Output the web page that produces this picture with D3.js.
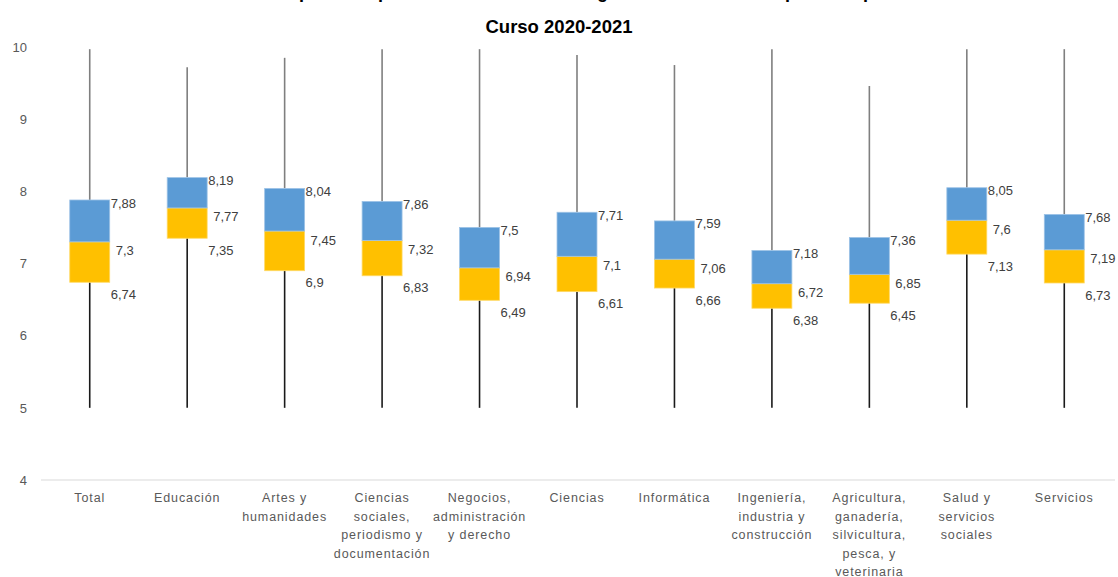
<!DOCTYPE html>
<html>
<head>
<meta charset="utf-8">
<script src="https://cdn.jsdelivr.net/npm/d3@7"></script>
<style>
  body { margin: 0; background: #fff; }
  svg { display: block; }
</style>
</head>
<body>
<div id="chart"></div>
<script>
const categories = [
  ["Total"],
  ["Educación"],
  ["Artes y", "humanidades"],
  ["Ciencias", "sociales,", "periodismo y", "documentación"],
  ["Negocios,", "administración", "y derecho"],
  ["Ciencias"],
  ["Informática"],
  ["Ingeniería,", "industria y", "construcción"],
  ["Agricultura,", "ganadería,", "silvicultura,", "pesca, y", "veterinaria"],
  ["Salud y", "servicios", "sociales"],
  ["Servicios"]
];
const minValues = [5, 5, 5, 5, 5, 5, 5, 5, 5, 5, 5];
const q1Values = [6.74, 7.35, 6.9, 6.83, 6.49, 6.61, 6.66, 6.38, 6.45, 7.13, 6.73];
const medianValues = [7.3, 7.77, 7.45, 7.32, 6.94, 7.1, 7.06, 6.72, 6.85, 7.6, 7.19];
const q3Values = [7.88, 8.19, 8.04, 7.86, 7.5, 7.71, 7.59, 7.18, 7.36, 8.05, 7.68];
const maxValues = [9.97, 9.72, 9.85, 9.97, 9.97, 9.89, 9.75, 9.97, 9.46, 9.97, 9.97];
const yTicks = [4, 5, 6, 7, 8, 9, 10];

const width = 1118, height = 577;
const margin = {top: 47, right: 5, bottom: 97, left: 41};

const svg = d3.select("#chart").append("svg")
  .attr("width", width)
  .attr("height", height);

const x = d3.scaleBand()
  .domain(d3.range(categories.length))
  .range([margin.left, width - margin.right])
  .paddingInner(0.59)
  .paddingOuter(0.295);

const y = d3.scaleLinear()
  .domain([4, 10])
  .range([height - margin.bottom, margin.top]);

const fmt = v => String(v).replace(".", ",");

// title (first line is cut off at the top of the picture)
svg.append("text")
  .attr("x", 559).attr("y", -2)
  .attr("text-anchor", "middle")
  .attr("font-family", "Liberation Sans, Arial, sans-serif")
  .attr("font-weight", "bold").attr("font-size", 18)
  .attr("fill", "#000")
  .text("Nota media del expediente por ámbito de estudio en grado. Universidades públicas presenciales");
svg.append("text")
  .attr("x", 559).attr("y", 33)
  .attr("text-anchor", "middle")
  .attr("font-family", "Liberation Sans, Arial, sans-serif")
  .attr("font-weight", "bold").attr("font-size", 18.5)
  .attr("fill", "#000")
  .text("Curso 2020-2021");

// y axis labels
const yAxis = svg.append("g")
  .attr("transform", `translate(${margin.left - 14},0)`)
  .call(d3.axisLeft(y).tickValues(yTicks).tickFormat(d3.format("d")).tickSize(0).tickPadding(0));
yAxis.select(".domain").remove();
yAxis.selectAll("text")
  .attr("font-family", "Liberation Sans, Arial, sans-serif")
  .attr("font-size", 13)
  .attr("fill", "#595959");

// baseline
svg.append("line")
  .attr("x1", margin.left).attr("x2", width - 3)
  .attr("y1", y(4)).attr("y2", y(4))
  .attr("stroke", "#d9d9d9").attr("stroke-width", 1.2);

const idx = d3.range(categories.length);
const cx = i => x(i) + x.bandwidth() / 2;

// whiskers
svg.append("g").selectAll("line").data(idx).join("line")
  .attr("x1", cx).attr("x2", cx)
  .attr("y1", i => y(q3Values[i])).attr("y2", i => y(maxValues[i]))
  .attr("stroke", "#7f7f7f").attr("stroke-width", 1.6);
svg.append("g").selectAll("line").data(idx).join("line")
  .attr("x1", cx).attr("x2", cx)
  .attr("y1", i => y(q1Values[i])).attr("y2", i => y(minValues[i]))
  .attr("stroke", "#1a1a1a").attr("stroke-width", 1.6);

// boxes
svg.append("g").selectAll("rect").data(idx).join("rect")
  .attr("x", i => x(i)).attr("width", x.bandwidth())
  .attr("y", i => y(medianValues[i]))
  .attr("height", i => y(q1Values[i]) - y(medianValues[i]))
  .attr("fill", "#ffc000").attr("stroke", "#ffd966").attr("stroke-width", 0.8);
svg.append("g").selectAll("rect").data(idx).join("rect")
  .attr("x", i => x(i)).attr("width", x.bandwidth())
  .attr("y", i => y(q3Values[i]))
  .attr("height", i => y(medianValues[i]) - y(q3Values[i]))
  .attr("fill", "#5b9bd5").attr("stroke", "#9dc3e6").attr("stroke-width", 0.8);

// value labels
const lab = svg.append("g")
  .attr("font-family", "Liberation Sans, Arial, sans-serif")
  .attr("font-size", 13).attr("fill", "#404040");
const right = i => x(i) + x.bandwidth();
lab.selectAll(".q3").data(idx).join("text")
  .attr("x", i => right(i) + 1).attr("y", i => y(q3Values[i]) + 3)
  .attr("dy", "0.35em").text(i => fmt(q3Values[i]));
lab.selectAll(".med").data(idx).join("text")
  .attr("x", i => right(i) + 6).attr("y", i => y(medianValues[i]) + 9)
  .attr("dy", "0.35em").text(i => fmt(medianValues[i]));
lab.selectAll(".q1").data(idx).join("text")
  .attr("x", i => right(i) + 1).attr("y", i => y(q1Values[i]) + 12)
  .attr("dy", "0.35em").text(i => fmt(q1Values[i]));

// category labels
const cat = svg.append("g")
  .attr("font-family", "Liberation Sans, Arial, sans-serif")
  .attr("font-size", 12.5).attr("fill", "#595959")
  .attr("letter-spacing", "0.9px")
  .attr("text-anchor", "middle");
idx.forEach(i => {
  const t = cat.append("text").attr("x", cx(i)).attr("y", 502);
  categories[i].forEach((line, k) => {
    t.append("tspan").attr("x", cx(i)).attr("dy", k === 0 ? 0 : 18.6).text(line);
  });
});
</script>
</body>
</html>
